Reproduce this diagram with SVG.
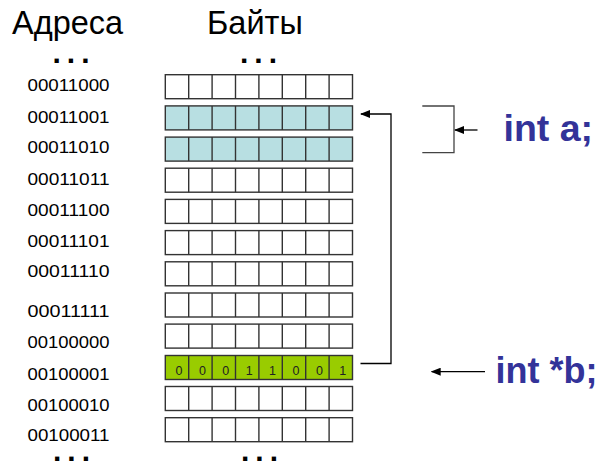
<svg xmlns="http://www.w3.org/2000/svg" width="608" height="469" viewBox="0 0 608 469">
<style>
.t{font-family:"Liberation Sans",Arial,sans-serif;fill:#000}
.h{font-size:32.5px}
.a{font-size:16.5px}
.d{font-size:30px;font-weight:bold;letter-spacing:6px}
.c{fill:#fff;stroke:#333;stroke-width:1.4}
.cb{fill:#b8dfe2;stroke:#333;stroke-width:1.4}
.cg{fill:#99cc00;stroke:#333;stroke-width:1.4}
.v{stroke:#333;stroke-width:1.4}
.n{font-family:"Liberation Sans",Arial,sans-serif;font-size:12.5px;fill:#222;text-anchor:middle}
.k{font-family:"Liberation Sans",Arial,sans-serif;font-size:37.5px;font-weight:bold;fill:#333399}
.ln{fill:none;stroke:#000;stroke-width:1.3}
</style>
<defs>
<marker id="ah" markerWidth="10" markerHeight="8" refX="9" refY="4" orient="auto" markerUnits="userSpaceOnUse">
<path d="M0,0 L10,4 L0,8 Z" fill="#000"/>
</marker>
<g id="cells">
<line class="v" x1="188.7" y1="0" x2="188.7" y2="24"/>
<line class="v" x1="212.1" y1="0" x2="212.1" y2="24"/>
<line class="v" x1="235.5" y1="0" x2="235.5" y2="24"/>
<line class="v" x1="258.9" y1="0" x2="258.9" y2="24"/>
<line class="v" x1="282.3" y1="0" x2="282.3" y2="24"/>
<line class="v" x1="305.7" y1="0" x2="305.7" y2="24"/>
<line class="v" x1="329.1" y1="0" x2="329.1" y2="24"/>
</g>
</defs>
<rect width="608" height="469" fill="#fff"/>

<g id="headers">
<text class="t h" x="12" y="34.3">Адреса</text>
<text class="t h" x="207" y="34.3">Байты</text>
<text class="t d" x="52.5" y="62.5">...</text>
<text class="t d" x="240" y="62.5">...</text>
<text class="t d" x="53" y="461">...</text>
<text class="t d" x="241" y="461">...</text>
</g>

<g id="addresses" class="t a">
<text x="27.5" y="91" textLength="82" lengthAdjust="spacingAndGlyphs">00011000</text>
<text x="27.5" y="122.7" textLength="82" lengthAdjust="spacingAndGlyphs">00011001</text>
<text x="27.5" y="153.3" textLength="82" lengthAdjust="spacingAndGlyphs">00011010</text>
<text x="27.5" y="185" textLength="82" lengthAdjust="spacingAndGlyphs">00011011</text>
<text x="27.5" y="216" textLength="82" lengthAdjust="spacingAndGlyphs">00011100</text>
<text x="27.5" y="246.7" textLength="82" lengthAdjust="spacingAndGlyphs">00011101</text>
<text x="27.5" y="276.7" textLength="82" lengthAdjust="spacingAndGlyphs">00011110</text>
<text x="27.5" y="317" textLength="82" lengthAdjust="spacingAndGlyphs">00011111</text>
<text x="27.5" y="348" textLength="82" lengthAdjust="spacingAndGlyphs">00100000</text>
<text x="27.5" y="380" textLength="82" lengthAdjust="spacingAndGlyphs">00100001</text>
<text x="27.5" y="410.5" textLength="82" lengthAdjust="spacingAndGlyphs">00100010</text>
<text x="27.5" y="441" textLength="82" lengthAdjust="spacingAndGlyphs">00100011</text>
</g>

<g id="row1" transform="translate(0,74.7)"><rect class="c" x="165.3" y="0" width="187.2" height="24"/><use href="#cells"/></g>
<g id="row2" transform="translate(0,105.9)"><rect class="cb" x="165.3" y="0" width="187.2" height="24"/><use href="#cells"/></g>
<g id="row3" transform="translate(0,137.1)"><rect class="cb" x="165.3" y="0" width="187.2" height="24"/><use href="#cells"/></g>
<g id="row4" transform="translate(0,168.2)"><rect class="c" x="165.3" y="0" width="187.2" height="24"/><use href="#cells"/></g>
<g id="row5" transform="translate(0,199.4)"><rect class="c" x="165.3" y="0" width="187.2" height="24"/><use href="#cells"/></g>
<g id="row6" transform="translate(0,230.6)"><rect class="c" x="165.3" y="0" width="187.2" height="24"/><use href="#cells"/></g>
<g id="row7" transform="translate(0,261.8)"><rect class="c" x="165.3" y="0" width="187.2" height="24"/><use href="#cells"/></g>
<g id="row8" transform="translate(0,293)"><rect class="c" x="165.3" y="0" width="187.2" height="24"/><use href="#cells"/></g>
<g id="row9" transform="translate(0,324.1)"><rect class="c" x="165.3" y="0" width="187.2" height="24"/><use href="#cells"/></g>
<g id="row10" transform="translate(0,355.5)"><rect class="cg" x="165.3" y="0" width="187.2" height="24"/><use href="#cells"/>
<text class="n" x="179" y="19.5">0</text>
<text class="n" x="202.4" y="19.5">0</text>
<text class="n" x="225.8" y="19.5">0</text>
<text class="n" x="249.2" y="19.5">1</text>
<text class="n" x="272.6" y="19.5">1</text>
<text class="n" x="296" y="19.5">0</text>
<text class="n" x="319.4" y="19.5">0</text>
<text class="n" x="342.8" y="19.5">1</text>
</g>
<g id="row11" transform="translate(0,386.5)"><rect class="c" x="165.3" y="0" width="187.2" height="24"/><use href="#cells"/></g>
<g id="row12" transform="translate(0,417.7)"><rect class="c" x="165.3" y="0" width="187.2" height="24"/><use href="#cells"/></g>

<g id="bracket">
<path d="M422.3,106 H454 V152.7 H422.3" fill="none" stroke="#444" stroke-width="1.3"/>
</g>

<g id="connectors">
<path class="ln" d="M360.5,363.5 H391 V114 H361" marker-end="url(#ah)"/>
<line class="ln" x1="477.5" y1="130" x2="455" y2="130" marker-end="url(#ah)"/>
<line class="ln" x1="485" y1="371.7" x2="431.7" y2="371.7" marker-end="url(#ah)"/>
</g>

<g id="label-a"><text class="k" x="503.5" y="140.7">int a;</text></g>
<g id="label-b"><text class="k" x="495.5" y="382.7" style="font-size:36px">int *b;</text></g>
</svg>
